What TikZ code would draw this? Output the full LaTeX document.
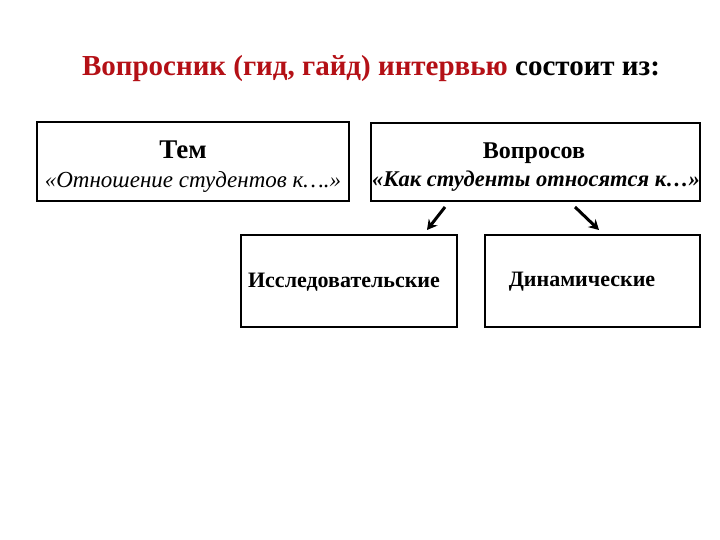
\documentclass[tikz,border=0pt]{standalone}
\usepackage{fontspec}
\setmainfont{Liberation Serif}
\usepackage{tikz}
\usetikzlibrary{arrows.meta}
\definecolor{titlered}{RGB}{180,16,22}

\begin{document}
\begin{tikzpicture}[x=1pt,y=-1pt,
	box/.style={draw,line width=1.8pt,inner sep=0pt},
	arr/.style={line width=3pt,-{Stealth[length=10pt,width=11pt]}}]
	\useasboundingbox (0,0) rectangle (720,540);

%title
	\node (title) at (371,69) {\fontsize{29}{33}\selectfont\bfseries
		\textcolor{titlered}{Вопросник (гид, гайд) интервью} состоит из:};

%upper boxes
	\node[box,minimum width=312pt,minimum height=79pt] (tem) at (193,161.5) {};
	\node at (183,150) {\fontsize{27}{30}\selectfont\bfseries Тем};
	\node at (193,182) {\fontsize{23}{26}\selectfont\itshape «Отношение студентов к….»};

	\node[box,minimum width=329pt,minimum height=78pt] (voprosov) at (535.5,162) {};
	\node at (534,153) {\fontsize{24}{27}\selectfont\bfseries Вопросов};
	\node at (536,181) {\fontsize{22.5}{26}\selectfont\bfseries\itshape «Как студенты относятся к…»};

%lower boxes
	\node[box,minimum width=216pt,minimum height=92pt] (issled) at (349,281) {};
	\node at (344,282) {\fontsize{22}{25}\selectfont\bfseries Исследовательские};
	\node[box,minimum width=215pt,minimum height=92pt] (dinam) at (592.5,281) {};
	\node at (582,282) {\fontsize{22}{25}\selectfont\bfseries Динамические};

%arrows
	\coordinate (a1) at (445,207);
	\coordinate (b1) at (427,230);
	\coordinate (a2) at (575,207);
	\coordinate (b2) at (599,230);
	\draw[arr] (a1)--(b1);
	\draw[arr] (a2)--(b2);
\end{tikzpicture}
\end{document}
